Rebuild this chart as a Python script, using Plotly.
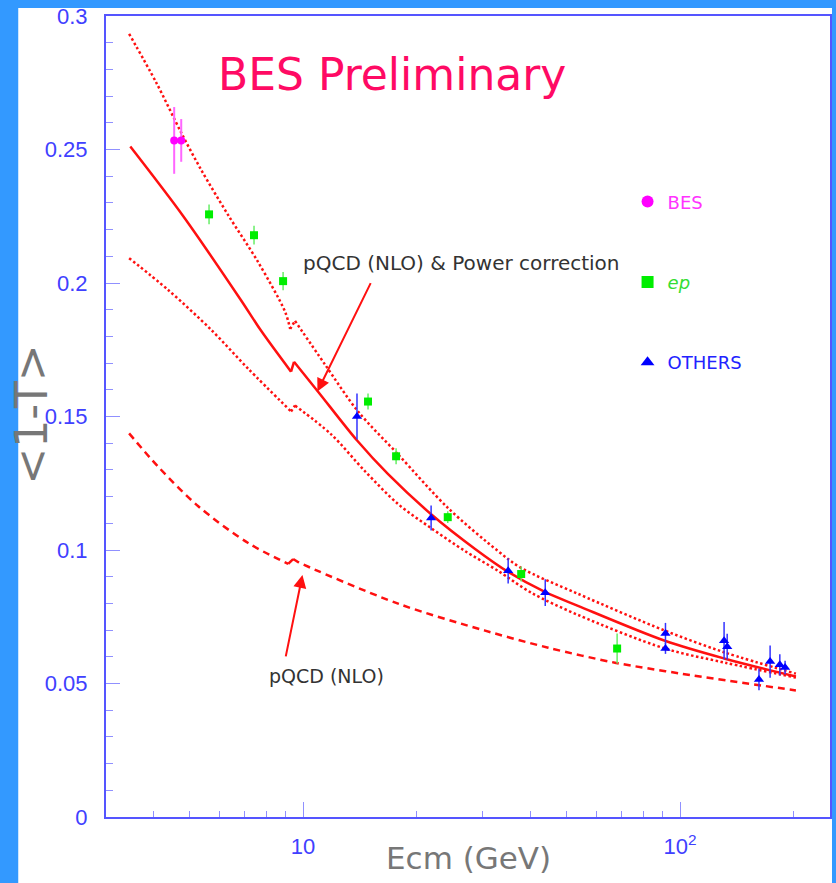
import math
import plotly.graph_objects as go

# ---------------- data ----------------
bes_x = [4.55, 4.75]
bes_y = [0.2534, 0.2534]
bes_err = [0.0125, 0.008]

ep_x = [5.63, 7.41, 8.85, 14.87, 17.65, 24.2, 37.9, 68.1]
ep_y = [0.2257, 0.2179, 0.2007, 0.1556, 0.1351, 0.1123, 0.0910, 0.0631]
ep_err = [0.0037, 0.0035, 0.0034, 0.0030, 0.0030, 0.0022, 0.0028, 0.0056]

oth_x = [13.9, 21.86, 35.0, 43.9, 91.5, 91.5, 130.9, 133.4, 162.0, 173.4, 184.0, 190.0]
oth_y = [0.150, 0.112, 0.0922, 0.084, 0.0687, 0.0631, 0.066, 0.0638, 0.0515, 0.0582, 0.057, 0.056]
oth_err = [0.0086, 0.0047, 0.0047, 0.005, 0.004, 0.002, 0.007, 0.0048, 0.004, 0.006, 0.004, 0.0025]

# pQCD (NLO) & power correction (solid), below / above the b threshold
pc_x_below = [3.48, 4.81, 6.81, 7.74, 9.29]
pc_y_below = [0.2511, 0.2250, 0.1940, 0.1821, 0.1668]
pc_x_above = [9.46, 10.96, 13.91, 16.81, 21.86, 28.6, 34.99, 43.8, 53.6, 91.2, 131.6, 203.0]
pc_y_above = [0.1705, 0.1593, 0.1410, 0.1284, 0.1134, 0.1004, 0.0918, 0.0843, 0.0791, 0.0660, 0.0593, 0.0526]

# upper error band (dotted)
up_x_below = [3.455, 4.08, 4.75, 5.36, 6.33, 7.60, 8.96, 9.24]
up_y_below = [0.2933, 0.2750, 0.2563, 0.2425, 0.2254, 0.2078, 0.1892, 0.1828]
up_x_above = [9.52, 11.44, 13.99, 17.87, 24.25, 32.9, 37.86, 53.6, 91.2, 131.6, 203.0]
up_y_above = [0.1858, 0.1694, 0.1519, 0.1358, 0.1157, 0.0996, 0.0933, 0.0836, 0.0698, 0.0616, 0.0537]

# lower error band (dotted)
lo_x_below = [3.455, 4.385, 5.70, 7.15, 9.29]
lo_y_below = [0.2093, 0.1974, 0.1825, 0.1679, 0.1519]
lo_x_above = [9.52, 11.87, 14.60, 17.87, 21.86, 26.9, 32.9, 40.3, 53.6, 91.2, 131.6, 203.0]
lo_y_above = [0.1541, 0.1433, 0.1295, 0.1172, 0.1082, 0.0996, 0.0922, 0.0840, 0.0757, 0.0631, 0.0578, 0.0522]

# pQCD (NLO) only (dashed)
nlo_x_below = [3.455, 4.12, 5.27, 7.15, 9.13]
nlo_y_below = [0.1437, 0.1313, 0.1164, 0.1026, 0.0948]
nlo_x_above = [9.41, 9.70, 17.87, 30.4, 44.7, 67.2, 100.6, 203.0]
nlo_y_above = [0.0966, 0.0955, 0.0799, 0.0698, 0.0634, 0.0578, 0.0537, 0.0474]

x_tickvals = [10, 100]
x_ticktext = ["10", "10<sup>2</sup>"]
x_minor = [4, 5, 6, 7, 8, 9, 20, 30, 40, 50, 60, 70, 80, 90, 200]

# ---------------- figure ----------------
W, H = 836, 883
L, R, T, B = 106, 4, 13, 66
PW, PH = W - L - R, H - T - B


def px(xp):
    return (xp - L) / PW


def py(yp):
    return (H - B - yp) / PH


fig = go.Figure()

RED = "#ff1010"


def add_curve(xb, yb, xa, ya, dash, width):
    line = dict(color=RED, width=width, dash=dash, shape="spline", smoothing=0.9)
    fig.add_trace(go.Scatter(x=xb, y=yb, mode="lines", line=line, showlegend=False, hoverinfo="skip"))
    fig.add_trace(go.Scatter(x=[xb[-1], xa[0]], y=[yb[-1], ya[0]], mode="lines",
                             line=dict(color=RED, width=width, dash=dash), showlegend=False, hoverinfo="skip"))
    fig.add_trace(go.Scatter(x=xa, y=ya, mode="lines", line=line, showlegend=False, hoverinfo="skip"))


add_curve(up_x_below, up_y_below, up_x_above, up_y_above, "2.5px,2.5px", 2.5)
add_curve(lo_x_below, lo_y_below, lo_x_above, lo_y_above, "2.5px,2.5px", 2.5)
add_curve(nlo_x_below, nlo_y_below, nlo_x_above, nlo_y_above, "7px,5px", 2.5)
add_curve(pc_x_below, pc_y_below, pc_x_above, pc_y_above, "solid", 2.5)

fig.add_trace(go.Scatter(
    x=bes_x, y=bes_y, mode="markers", legendgroup="bes",
    name="<span style='color:#ff33ff'>BES</span>",
    marker=dict(symbol="circle", size=8, color="#ff00ff"),
    error_y=dict(type="data", array=bes_err, color="#ff66ff", thickness=2, width=0),
))
fig.add_trace(go.Scatter(
    x=ep_x, y=ep_y, mode="markers", legendgroup="ep",
    name="<span style='color:#33dd33'><i>ep</i></span>",
    marker=dict(symbol="square", size=8, color="#00ee00"),
    error_y=dict(type="data", array=ep_err, color="#66ee66", thickness=1.5, width=0),
))
fig.add_trace(go.Scatter(
    x=oth_x, y=oth_y, mode="markers", legendgroup="oth",
    name="<span style='color:#2222ff'>OTHERS</span>",
    marker=dict(symbol="triangle-up", size=9, color="#0000ff"),
    error_y=dict(type="data", array=oth_err, color="#3333ff", thickness=1.5, width=0),
))

AXBLUE = "#5555ff"
TICKBLUE = "#9090ff"
LABBLUE = "#4040ff"

fig.update_layout(
    width=W, height=H,
    margin=dict(l=L, r=R, t=T, b=B, pad=0),
    paper_bgcolor="#3399ff",
    plot_bgcolor="white",
    font=dict(family="DejaVu Sans"),
    showlegend=True,
    legend=dict(
        x=px(629), xanchor="left", y=py(181), yanchor="top",
        bgcolor="rgba(0,0,0,0)", borderwidth=0,
        font=dict(family="DejaVu Sans", size=18),
        itemsizing="constant", traceorder="grouped", tracegroupgap=54,
    ),
    xaxis=dict(
        type="log", range=[math.log10(3), math.log10(250)],
        showline=True, mirror=True, linecolor=AXBLUE, linewidth=2,
        showgrid=False, zeroline=False,
        ticks="inside", ticklen=15, tickwidth=1, tickcolor=TICKBLUE,
        tickmode="array", tickvals=x_tickvals, ticktext=x_ticktext,
        tickfont=dict(family="Liberation Sans", size=22, color=LABBLUE),
        ticklabelstandoff=9,
        minor=dict(tickmode="array", tickvals=x_minor, ticks="inside", ticklen=6,
                   tickwidth=1, tickcolor=TICKBLUE, showgrid=False),
    ),
    yaxis=dict(
        range=[0, 0.3],
        showline=True, mirror=True, linecolor=AXBLUE, linewidth=2,
        showgrid=False, zeroline=False,
        ticks="inside", ticklen=14, tickwidth=1, tickcolor=TICKBLUE,
        tick0=0, dtick=0.05,
        tickfont=dict(family="Liberation Sans", size=22, color=LABBLUE),
        ticklabelstandoff=12,
        minor=dict(dtick=0.01, ticks="inside", ticklen=7, tickwidth=1,
                   tickcolor=TICKBLUE, showgrid=False),
    ),
    shapes=[dict(type="rect", xref="paper", yref="paper",
                 x0=px(18), x1=px(834), y0=py(H + 5), y1=py(5),
                 fillcolor="white", line=dict(width=0), layer="below")],
)

ann = []
ann.append(dict(text="BES Preliminary", xref="paper", yref="paper", x=px(393), y=py(72),
                xanchor="center", yanchor="middle", showarrow=False,
                font=dict(family="DejaVu Sans", size=44, color="#ff0a64")))
ann.append(dict(text="pQCD (NLO) & Power correction", xref="paper", yref="paper",
                x=px(462), y=py(261), xanchor="center", yanchor="middle", showarrow=False,
                font=dict(family="DejaVu Sans", size=20, color="#333333")))
ann.append(dict(text="pQCD (NLO)", xref="paper", yref="paper",
                x=px(327), y=py(675), xanchor="center", yanchor="middle", showarrow=False,
                font=dict(family="DejaVu Sans", size=19, color="#333333")))
ann.append(dict(text="", xref="paper", yref="paper", x=px(318), y=py(390),
                ax=54, ay=-110, showarrow=True, arrowhead=2, arrowsize=1.3,
                arrowwidth=2, arrowcolor=RED))
ann.append(dict(text="", xref="paper", yref="paper", x=px(303), y=py(574),
                ax=-17, ay=83, showarrow=True, arrowhead=2, arrowsize=1.3,
                arrowwidth=2, arrowcolor=RED))
ann.append(dict(text="&lt;1-T&gt;", xref="paper", yref="paper", x=px(31), y=py(413),
                xanchor="center", yanchor="middle", textangle=-90, showarrow=False,
                font=dict(family="DejaVu Sans", size=44, color="#777777")))
ann.append(dict(text="Ecm (GeV)", xref="paper", yref="paper", x=px(469), y=py(858),
                xanchor="center", yanchor="middle", showarrow=False,
                font=dict(family="DejaVu Sans", size=31, color="#777777")))
fig.update_layout(annotations=ann)

fig.write_html("out.html", config={"displayModeBar": False},
               post_script="document.body.style.margin='0px';document.body.style.overflow='hidden';")
